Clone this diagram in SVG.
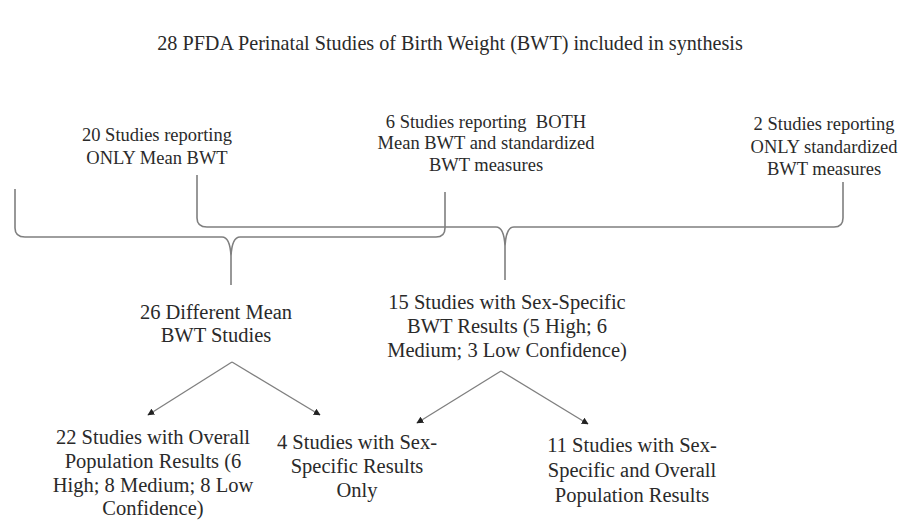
<svg xmlns="http://www.w3.org/2000/svg" width="900" height="521" viewBox="0 0 900 521">
<defs>
<style>
.tx{font-family:'Liberation Serif','Times New Roman',serif;fill:#2a2a2a;text-anchor:middle}
.t{font-size:20.2px}
.s{font-size:18.5px}
.m{font-size:20.5px}
.brace{fill:none;stroke:#7f7f7f;stroke-width:1.6}
.arr{fill:none;stroke:#7f7f7f;stroke-width:1.3}
</style>
<marker id="ah" viewBox="0 0 10 10" refX="9" refY="5" markerWidth="7" markerHeight="7" orient="auto" markerUnits="userSpaceOnUse">
<path d="M0,0 L10,5 L0,10 z" fill="#222"/>
</marker>
</defs>
<rect width="900" height="521" fill="#fff"/>
<g class="tx">
<g id="title"><text class="t" x="450" y="50">28 PFDA Perinatal Studies of Birth Weight (BWT) included in synthesis</text></g>
<g id="only-mean"><text class="s" x="157" y="141">20 Studies reporting</text><text class="s" x="157" y="164">ONLY Mean BWT</text></g>
<g id="both"><text class="s" x="486" y="128" xml:space="preserve">6 Studies reporting  BOTH</text><text class="s" x="486" y="149">Mean BWT and standardized</text><text class="s" x="486" y="171">BWT measures</text></g>
<g id="only-std"><text class="s" x="824" y="130">2 Studies reporting</text><text class="s" x="824" y="153">ONLY standardized</text><text class="s" x="824" y="175">BWT measures</text></g>
<g id="mean-studies"><text class="m" x="216" y="319">26 Different Mean</text><text class="m" x="216" y="342">BWT Studies</text></g>
<g id="sex-studies"><text class="m" x="507" y="309">15 Studies with Sex-Specific</text><text class="m" x="507" y="333">BWT Results (5 High; 6</text><text class="m" x="507" y="357">Medium; 3 Low Confidence)</text></g>
<g id="overall"><text class="m" x="153" y="444">22 Studies with Overall</text><text class="m" x="153" y="468">Population Results (6</text><text class="m" x="153" y="492">High; 8 Medium; 8 Low</text><text class="m" x="153" y="515">Confidence)</text></g>
<g id="sex-only"><text class="m" x="357" y="449">4 Studies with Sex-</text><text class="m" x="357" y="473">Specific Results</text><text class="m" x="357" y="497">Only</text></g>
<g id="sex-overall"><text class="m" x="632" y="452">11 Studies with Sex-</text><text class="m" x="632" y="477">Specific and Overall</text><text class="m" x="632" y="502">Population Results</text></g>
</g>
<g id="connectors">
<path class="brace" d="M15,189 V228 Q15,237 25,237 H222 Q230,237 231,256 V285 M231,256 Q232,237 240,237 H436 Q445,237 445,228 V192"/>
<path class="brace" d="M197,175 V218 Q197,227 207,227 H496 Q504,227 505,246 V280 M505,246 Q506,227 514,227 H834 Q843,227 843,218 V182"/>
<line class="arr" x1="232" y1="362" x2="148" y2="415" marker-end="url(#ah)"/>
<line class="arr" x1="232" y1="362" x2="320" y2="415" marker-end="url(#ah)"/>
<line class="arr" x1="501" y1="371" x2="417" y2="423" marker-end="url(#ah)"/>
<line class="arr" x1="501" y1="371" x2="588" y2="424" marker-end="url(#ah)"/>
</g>
</svg>
